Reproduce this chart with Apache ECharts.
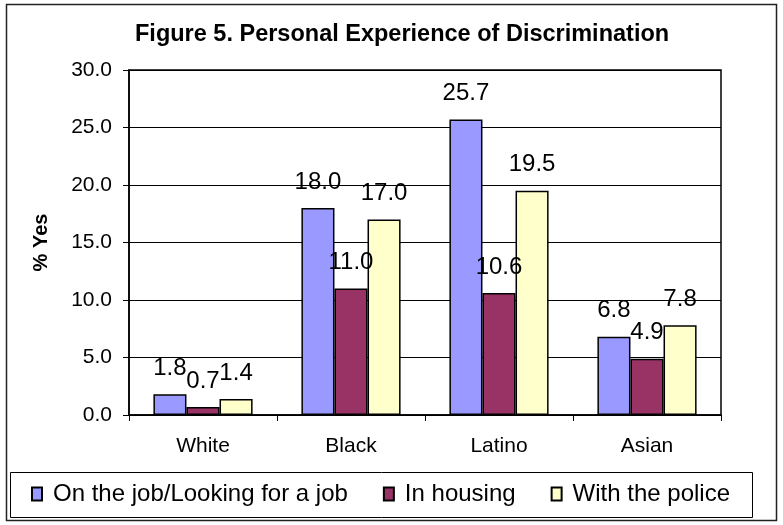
<!DOCTYPE html>
<html>
<head>
    <meta charset="utf-8">
    <title>Figure 5</title>
    <script src="https://cdn.jsdelivr.net/npm/echarts@6/dist/echarts.min.js"></script>
    <style>
        body { margin: 0; background: #fff; }
    </style>
</head>
<body>
    <div id="main" style="width: 783px;height:525px;"></div>
    <script type="text/javascript">
        var categories = ['White', 'Black', 'Latino', 'Asian'];
        var seriesNames = ['On the job/Looking for a job', 'In housing', 'With the police'];
        var jobValues = [1.8, 18.0, 25.7, 6.8];
        var housingValues = [0.7, 11.0, 10.6, 4.9];
        var policeValues = [1.4, 17.0, 19.5, 7.8];
        var colors = ['#9999FF', '#993366', '#FFFFCC'];

        var font = 'Liberation Sans, Arial, sans-serif';
        var myChart = echarts.init(document.getElementById('main'), null, {renderer: 'canvas'});

        function makeSeries(name, values, color) {
            return {
                name: name,
                type: 'bar',
                data: values,
                barGap: '0%',
                barCategoryGap: '33%',
                itemStyle: { color: color, borderColor: '#000', borderWidth: 1.5 },
                label: {
                    show: true,
                    position: 'top',
                    distance: 14,
                    fontFamily: font,
                    fontSize: 24,
                    color: '#000',
                    formatter: function (p) { return p.value.toFixed(1); }
                },
                emphasis: { disabled: true }
            };
        }

        var option = {
            animation: false,
            backgroundColor: '#fff',
            title: {
                text: 'Figure 5. Personal Experience of Discrimination',
                left: 135,
                top: 23,
                padding: 0,
                textStyle: { fontFamily: font, fontSize: 23.5, fontWeight: 'bold', color: '#000' }
            },
            legend: {
                data: seriesNames,
                left: 31,
                top: 482,
                padding: 0,
                itemWidth: 10,
                itemHeight: 13,
                itemGap: 35,
                icon: 'rect',
                textStyle: { fontFamily: font, fontSize: 24, color: '#000', padding: [0, 0, 0, 6] }
            },
            grid: {
                left: 129,
                right: 62,
                top: 70,
                bottom: 110,
                show: true,
                borderColor: '#000',
                borderWidth: 1.5,
                backgroundColor: '#fff'
            },
            xAxis: {
                type: 'category',
                data: categories,
                axisLine: { lineStyle: { color: '#000', width: 1.5 } },
                axisTick: { show: true, length: 6, lineStyle: { color: '#000' } },
                axisLabel: { fontFamily: font, fontSize: 21, color: '#000', margin: 21 }
            },
            yAxis: {
                type: 'value',
                min: 0,
                max: 30,
                interval: 5,
                name: '% Yes',
                nameLocation: 'middle',
                nameGap: 78,
                nameTextStyle: { fontFamily: font, fontSize: 20, fontWeight: 'bold', color: '#000' },
                axisLine: { show: true, lineStyle: { color: '#000', width: 1.5 } },
                axisTick: { show: true, length: 6, lineStyle: { color: '#000' } },
                axisLabel: {
                    fontFamily: font, fontSize: 21, color: '#000', margin: 17,
                    formatter: function (v) { return v.toFixed(1); }
                },
                splitLine: { lineStyle: { color: '#000', width: 1 } }
            },
            graphic: [
                {
                    type: 'rect',
                    shape: { x: 6.5, y: 4.5, width: 770, height: 516 },
                    style: { fill: null, stroke: '#222', lineWidth: 1.5 },
                    z: -1
                },
                {
                    type: 'rect',
                    shape: { x: 10.5, y: 472.5, width: 742, height: 45 },
                    style: { fill: null, stroke: '#000', lineWidth: 1 }
                }
            ],
            series: [
                makeSeries(seriesNames[0], jobValues, colors[0]),
                makeSeries(seriesNames[1], housingValues, colors[1]),
                makeSeries(seriesNames[2], policeValues, colors[2])
            ]
        };
        myChart.setOption(option);
    </script>
</body>
</html>
